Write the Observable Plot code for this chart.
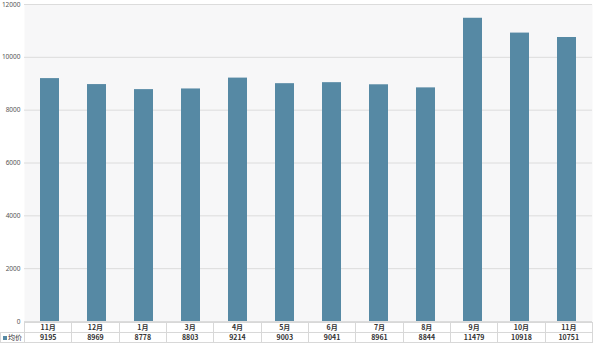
<!DOCTYPE html>
<html><head><meta charset="utf-8">
<script src="https://cdn.jsdelivr.net/npm/d3@7"></script>
<script src="https://cdn.jsdelivr.net/npm/@observablehq/plot@0.6"></script>
<style>
body{margin:0;background:#fff;font-family:"Noto Sans CJK SC","Noto Sans",sans-serif;}
#wrap{width:600px;}
#wrap svg{display:block;}
#tbl{border-collapse:collapse;table-layout:fixed;margin-top:-6px;position:relative;font-size:7px;font-weight:bold;color:#333;}
#tbl td{border:1px solid #d8d8d8;height:9px;padding:0;text-align:center;line-height:9px;white-space:nowrap;overflow:hidden;}
#tbl td.blank{border-top:none;border-left:none;border-bottom:1px solid #d8d8d8;}
#tbl td.leg{text-align:left;font-weight:normal;padding-left:2px;}
.sw{display:inline-block;width:4px;height:4px;background:#5689a4;margin-right:1px;vertical-align:0px;}
</style></head>
<body><div id="wrap"></div>
<script>
const months = ["11月","12月","1月","3月","4月","5月","6月","7月","8月","9月","10月","11月"];
const prices = [9195, 8969, 8778, 8803, 9214, 9003, 9041, 8961, 8844, 11479, 10918, 10751];
const yTicks = [0, 2000, 4000, 6000, 8000, 10000, 12000];
const seriesName = "均价";

const data = months.map((m, i) => ({key: i, month: m, value: prices[i]}));
const wrap = document.getElementById("wrap");

const chart = Plot.plot({
  width: 600, height: 328,
  marginLeft: 24, marginRight: 8, marginTop: 4, marginBottom: 7,
  style: {fontFamily: "'Noto Sans','DejaVu Sans',sans-serif", fontSize: "6.5px", color: "#555", background: "transparent"},
  x: {domain: data.map(d => d.key), paddingInner: 0.6, paddingOuter: 0.3, axis: null},
  y: {domain: [0, 12000], ticks: yTicks, tickFormat: d3.format("d"), tickSize: 0, tickPadding: 4, label: null},
  marks: [
    Plot.frame({fill: "#f7f7f8", stroke: null}),
    Plot.gridY(yTicks, {stroke: "#dcdcdc", strokeOpacity: 1}),
    Plot.barY(data, {x: "key", y: "value", fill: "#5689a4"})
  ]
});
wrap.appendChild(chart);

const colW = (600 - 24 - 8) / months.length;
let html = '<table id="tbl" style="width:' + (24 + colW * months.length) + 'px"><colgroup><col style="width:24px">';
months.forEach(() => { html += '<col style="width:' + colW + 'px">'; });
html += '</colgroup><tr><td class="blank"></td>';
months.forEach(m => { html += '<td>' + m + '</td>'; });
html += '</tr><tr><td class="leg"><span class="sw"></span>' + seriesName + '</td>';
prices.forEach(v => { html += '<td>' + v + '</td>'; });
html += '</tr></table>';
wrap.insertAdjacentHTML("beforeend", html);
</script></body></html>
